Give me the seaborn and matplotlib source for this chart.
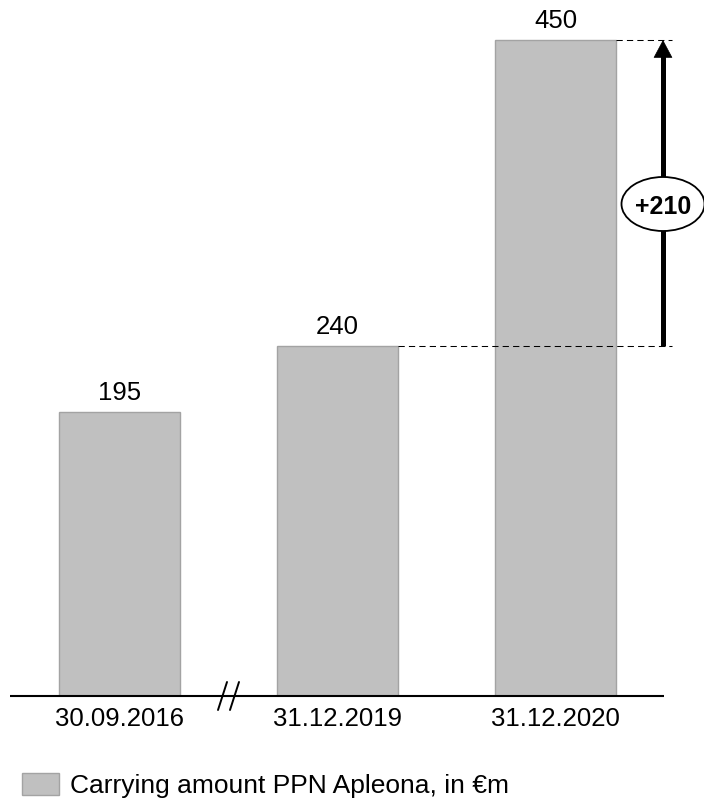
import matplotlib
matplotlib.use("Agg")
import matplotlib.pyplot as plt
from matplotlib.patches import Ellipse, Patch
import pandas as pd
import seaborn as sns

# Carrying amount of the PPN Apleona, in €m
dates = ["30.09.2016", "31.12.2019", "31.12.2020"]
amounts = [195, 240, 450]
legend_label = "Carrying amount PPN Apleona, in €m"
delta_label = "+210"

sns.set_theme(style="white")
plt.rcParams["font.family"] = ["Liberation Sans", "DejaVu Sans"]
plt.rcParams["text.color"] = "black"
plt.rcParams["xtick.color"] = "black"

FS = 18.5
BAR_FILL = "#c0c0c0"
BAR_EDGE = "#a3a3a3"
BAR_W = 0.555

df = pd.DataFrame({"date": dates, "amount": amounts})

W, H = 704, 800
fig = plt.figure(figsize=(W / 100, H / 100), dpi=100)
base_px = 696
ax = fig.add_axes([0, (H - base_px) / H, 1, base_px / H])

sns.barplot(data=df, x="date", y="amount", color=BAR_FILL, width=BAR_W,
            edgecolor=BAR_EDGE, linewidth=1, saturation=1, ax=ax)

# pixel-based scaling: 218 px between bar centres, first centre at 119.5 px
unit_px = 218.0
x0_px = 119.5
ax.set_xlim(-x0_px / unit_px, (W - x0_px) / unit_px)
y_scale = (base_px - 40) / max(amounts)
ax.set_ylim(0, base_px / y_scale)

for s in ax.spines.values():
    s.set_visible(False)
ax.set_yticks([])
ax.set_xlabel("")
ax.set_ylabel("")
ax.set_xticks(range(len(dates)))
ax.set_xticklabels(dates, fontsize=FS)
ax.tick_params(axis="x", length=0, pad=8)

# baseline with break marks between the first and second date
ax.plot([(10 - x0_px) / unit_px, (664 - x0_px) / unit_px], [0, 0],
        color="black", lw=1.5, clip_on=False, solid_capstyle="butt")
dy = 14 / y_scale
ddx = 4.5 / unit_px
for off in (-0.0275, 0.0275):
    xc = 0.5 + off
    ax.plot([xc - ddx, xc + ddx], [-dy, dy], color="black", lw=1.4,
            clip_on=False)

# value labels
for i, v in enumerate(amounts):
    ax.annotate(str(v), xy=(i, v), xytext=(0, 8.6), textcoords="offset points",
                ha="center", va="baseline", fontsize=FS)

# difference marker between the last two dates
x_arrow = (663 - x0_px) / unit_px
x_dash_end = (672 - x0_px) / unit_px
ax.hlines(amounts[1], 1 + BAR_W / 2, x_dash_end, color="black", lw=0.75,
          linestyles=(0, (6, 4)), clip_on=False)
ax.hlines(amounts[2], 2 + BAR_W / 2, x_dash_end, color="black", lw=0.75,
          linestyles=(0, (6, 4)), clip_on=False)
head = 17 / y_scale
ax.vlines(x_arrow, amounts[1], amounts[2] - head * 0.6, color="black", lw=3.6)
ax.annotate("", xy=(x_arrow, amounts[2]), xytext=(x_arrow, amounts[2] - head),
            arrowprops=dict(arrowstyle="-|>,head_length=0.6,head_width=0.32",
                            mutation_scale=20, lw=0.5, color="black",
                            shrinkA=0, shrinkB=0))
y_ell = (base_px - 204) / y_scale
ax.add_patch(Ellipse((x_arrow, y_ell), 83 / unit_px, 54 / y_scale,
                     facecolor="white", edgecolor="black", lw=1.3,
                     clip_on=False, zorder=5))
ax.text(x_arrow, y_ell, delta_label, ha="center", va="center_baseline",
        fontsize=FS - 0.5, fontweight="bold", zorder=6)

# legend
handle = Patch(facecolor=BAR_FILL, edgecolor=BAR_EDGE, lw=1)
fig.legend([handle], [legend_label], loc="lower left",
           bbox_to_anchor=(22 / W, 2 / H), frameon=False, fontsize=19,
           borderpad=0, borderaxespad=0, handlelength=1.4, handleheight=0.95,
           handletextpad=0.42)

fig.savefig("out.png", dpi=100)
